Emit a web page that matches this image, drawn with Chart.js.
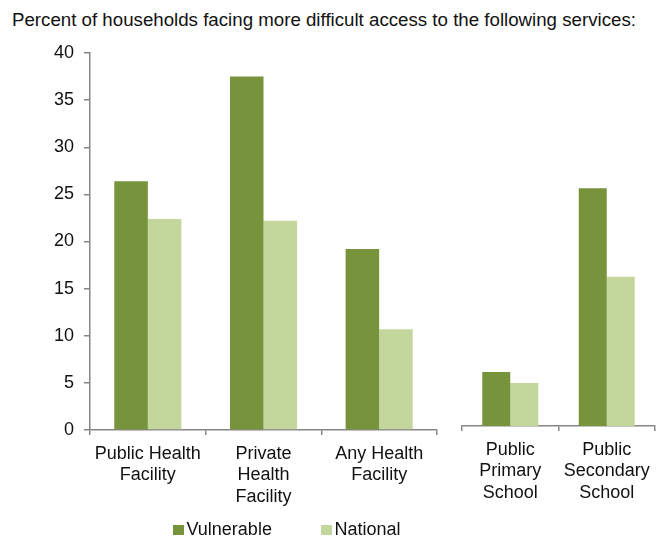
<!DOCTYPE html>
<html>
<head>
<meta charset="utf-8">
<script src="https://cdn.jsdelivr.net/npm/chart.js@4.4.1/dist/chart.umd.min.js"></script>
<style>
  body { margin: 0; background: #fff; font-family: "Liberation Sans", Arial, sans-serif; }
  #wrap { position: relative; width: 662px; height: 537px; overflow: hidden; }
  #title { position: absolute; left: 12px; top: 9px; font-size: 18.7px; color: #111; white-space: nowrap; }
  canvas { position: absolute; top: 0; }
  #healthCanvas { left: 0; }
  #schoolCanvas { left: 445px; }
  .legend { position: absolute; top: 519px; font-size: 18px; color: #111; white-space: nowrap; }
  .legend i { display: inline-block; width: 10.5px; height: 10.5px; margin-right: 3px; vertical-align: 0px; }
</style>
</head>
<body>
<div id="wrap">
  <div id="title">Percent of households facing more difficult access to the following services:</div>
  <canvas id="healthCanvas" width="445" height="537"></canvas>
  <canvas id="schoolCanvas" width="217" height="537"></canvas>
  <div class="legend" style="left:173px"><i style="background:#77933C"></i>Vulnerable</div>
  <div class="legend" style="left:321px"><i style="background:#C3D69B"></i>National</div>
</div>
<script>
// Percent of households facing more difficult access
const healthCategories = [['Public Health', 'Facility'], ['Private', 'Health', 'Facility'], ['Any Health', 'Facility']];
const healthVulnerable = [26.4, 37.5, 19.2];
const healthNational = [22.4, 22.2, 10.7];

const schoolCategories = [['Public', 'Primary', 'School'], ['Public', 'Secondary', 'School']];
const schoolVulnerable = [5.8, 25.5];
const schoolNational = [4.6, 16.0];

const yMax = 40;
const yStep = 5;

const darkGreen = '#77933C';
const lightGreen = '#C3D69B';
const axisGray = '#868686';
const tickFont = { family: '"Liberation Sans", Arial, sans-serif', size: 18, lineHeight: 1.2 };

function makeDatasets(vulnerable, national) {
  return [
    { label: 'Vulnerable', data: vulnerable, backgroundColor: darkGreen, borderWidth: 0,
      categoryPercentage: 0.58, barPercentage: 1.0 },
    { label: 'National', data: national, backgroundColor: lightGreen, borderWidth: 0,
      categoryPercentage: 0.58, barPercentage: 1.0 }
  ];
}

function xScale(axisHeight) {
  return {
    offset: true,
    grid: { offset: true, drawOnChartArea: false, drawTicks: true, tickLength: 5, color: axisGray, lineWidth: 1.5 },
    border: { color: axisGray, width: 1.5 },
    ticks: { color: '#111', font: tickFont, padding: 8, maxRotation: 0, autoSkip: false },
    afterFit: scale => { scale.height = axisHeight; }
  };
}

function yScale(show, axisWidth) {
  return {
    display: show,
    min: 0,
    max: yMax,
    ticks: { stepSize: yStep, color: '#111', font: tickFont, padding: 10 },
    grid: { drawOnChartArea: false, drawTicks: true, tickLength: 6, color: axisGray, lineWidth: 1.5 },
    border: { color: axisGray, width: 1.5 },
    afterFit: scale => { scale.width = axisWidth; }
  };
}

const baseOptions = {
  responsive: false,
  animation: false,
  plugins: { legend: { display: false }, tooltip: { enabled: false }, title: { display: false } }
};

// left group: health facilities
new Chart(document.getElementById('healthCanvas').getContext('2d'), {
  type: 'bar',
  data: { labels: healthCategories, datasets: makeDatasets(healthVulnerable, healthNational) },
  options: Object.assign({}, baseOptions, {
    layout: { padding: { top: 53, left: 0, right: 8, bottom: 0 } },
    scales: { x: xScale(107), y: yScale(true, 90) }
  })
});

// right group: schools (no y axis, same scale)
new Chart(document.getElementById('schoolCanvas').getContext('2d'), {
  type: 'bar',
  data: { labels: schoolCategories, datasets: makeDatasets(schoolVulnerable, schoolNational) },
  options: Object.assign({}, baseOptions, {
    layout: { padding: { top: 53, left: 17, right: 7, bottom: 0 } },
    scales: { x: xScale(111), y: yScale(false, 0) }
  })
});
</script>
</body>
</html>
